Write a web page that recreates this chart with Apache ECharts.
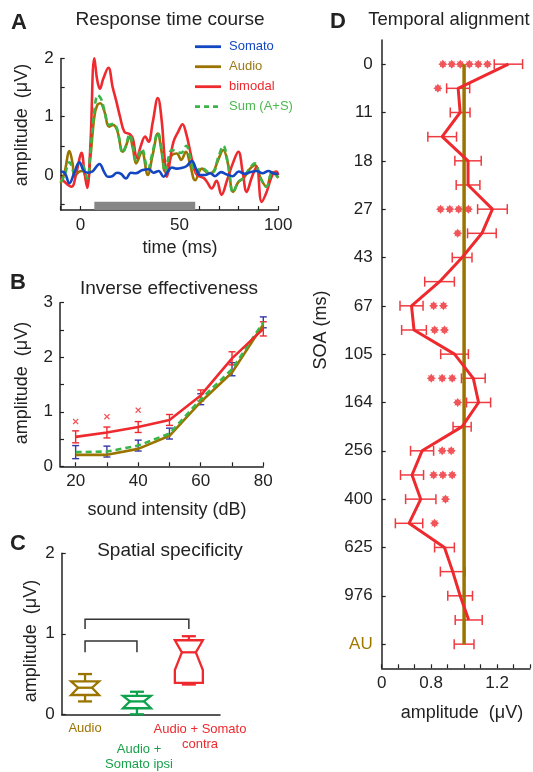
<!DOCTYPE html>
<html><head><meta charset="utf-8">
<script src="https://cdn.jsdelivr.net/npm/echarts@6/dist/echarts.min.js"></script>
<style>html,body{margin:0;padding:0;background:#fff}#c{width:533px;height:772px}</style>
</head><body><div id="c"></div>
<script>
// ---------- Panel A: response time course (time ms, amplitude uV) ----------
const somatoTrace = [[-10,0.06],[-8,0.04],[-5.6,-0.14],[-3,0.05],[-0.5,0.22],[1.5,0.08],[3.4,0.04],[6,0.06],[9.6,0.19],[12,0.05],[13.8,-0.03],[16,-0.02],[18.5,0.04],[20.5,0.02],[23,-0.06],[25.5,0.04],[28,0.03],[31,0.08],[34.5,0.1],[37,0.04],[39.5,0.07],[42,-0.03],[44,0.05],[46.2,0.13],[48.5,0.11],[51,0.12],[53.5,0.15],[56.3,0.24],[58.5,0.1],[60.5,0.0],[63,0.0],[65.6,0.03],[68,-0.02],[71,0.05],[74,0.01],[77,-0.02],[80,0.06],[83,0.02],[86,0.05],[89,0.07],[92,0.03],[95,0.07],[97.5,0.03],[100,0.02]];
const audioTrace = [[-10,-0.14],[-8,0.05],[-5.6,0.41],[-4,0.2],[-3,-0.03],[-1,0.05],[1,0.07],[3.4,-0.11],[5,0.3],[7,1.0],[8.5,1.2],[10,1.23],[12,1.1],[14.5,0.83],[16.5,0.86],[18.5,0.77],[21.4,0.4],[23,0.5],[24.8,0.66],[26.5,0.45],[28.2,0.2],[31,0.4],[34,0.0],[36.5,0.35],[39.1,0.71],[41,0.4],[42.8,0.06],[44.5,0.2],[46.2,0.34],[48.7,0.37],[50.9,0.26],[53.3,0.4],[55.5,0.17],[58,-0.09],[61.4,0.11],[64.8,0.03],[67,0.05],[69.6,0.26],[72.2,0.43],[74.5,0.2],[77.2,-0.29],[79.8,-0.12],[82.5,-0.05],[85.5,0.1],[88.2,0.17],[91,-0.05],[94,-0.2],[97,0.05],[100,-0.05]];
const bimodalTrace = [[-10,-0.05],[-7,-0.15],[-4.5,-0.2],[-2,0.05],[0.5,0.38],[2,0.05],[3.4,-0.22],[5,0.5],[7,2.0],[8.5,1.62],[9.8,1.48],[11.5,1.65],[14.1,1.84],[16.3,1.5],[18,1.28],[20,1.0],[22.2,0.74],[25,0.7],[26.5,0.62],[28.5,0.29],[30.5,0.5],[32.7,0.66],[34.4,0.57],[36.5,0.9],[39.1,1.32],[41,0.95],[42.5,0.3],[43.7,-0.03],[45.5,0.3],[47,0.57],[49.5,0.75],[51.6,0.87],[53.5,0.7],[55.5,0.4],[57.5,0.1],[59,0.0],[62.2,-0.05],[64,-0.12],[66.3,-0.23],[68.8,-0.1],[71.3,-0.34],[74,-0.1],[77,0.2],[79.8,0.4],[82,0.05],[84,-0.29],[86.5,-0.05],[89,0.14],[91.6,-0.46],[94,-0.3],[97,0.0],[99,0.06],[100,0.0]];
const sumTrace = [[-10,-0.12],[-8,0.0],[-5.6,0.22],[-3,0.03],[-1,0.2],[1,0.18],[3.4,-0.06],[5,0.4],[7,1.1],[8.8,1.37],[10.5,1.3],[12,1.12],[14.5,0.86],[16.5,0.88],[18.5,0.79],[21.4,0.38],[23,0.5],[24.8,0.7],[26.5,0.5],[28.2,0.25],[31,0.45],[34,0.1],[36.5,0.4],[39.1,0.73],[41,0.45],[42.8,0.05],[44.5,0.3],[46.2,0.43],[48.7,0.4],[50.9,0.38],[53.5,0.5],[55.5,0.3],[58,0.05],[61.4,0.12],[64.8,0.05],[67,0.05],[69.6,0.3],[72.2,0.5],[74.5,0.2],[77.2,-0.3],[79.8,-0.12],[82.5,-0.05],[85.5,0.12],[88.2,0.2],[91,-0.05],[94,-0.2],[97,0.05],[100,-0.04]];
const stimWindow = [7, 58];          // grey stimulus bar (ms)
const traceNames = ['Somato', 'Audio', 'bimodal', 'Sum (A+S)'];

// ---------- Panel B: inverse effectiveness ----------
const intensity = [20, 30, 40, 50, 60, 70, 80];
const bimodalAmp = [0.54, 0.62, 0.72, 0.85, 1.3, 1.98, 2.52];
const bimodalErr = [0.11, 0.1, 0.1, 0.1, 0.1, 0.12, 0.13];
const audioAmp = [0.21, 0.21, 0.32, 0.56, 1.18, 1.72, 2.6];
const sumAmp = [0.26, 0.27, 0.38, 0.6, 1.23, 1.78, 2.64];
const sumErr = [0.12, 0.1, 0.1, 0.1, 0.1, 0.12, 0.1];
const sigIntensity = [20, 30, 40];
const sigLevel = [0.82, 0.91, 1.03];

// ---------- Panel C: spatial specificity (notched boxes) ----------
const condLabels = ['Audio', 'Audio +\nSomato ipsi', 'Audio + Somato\ncontra'];
const whiskerLow = [0.16, 0.0, 0.37];
const q1 = [0.24, 0.075, 0.39];
const notchLow = [0.24, 0.075, 0.55];
const median = [0.33, 0.16, 0.77];
const notchHigh = [0.41, 0.23, 0.92];
const q3 = [0.41, 0.23, 0.92];
const whiskerHigh = [0.5, 0.28, 0.97];
const brackets = [[0, 2, 1.18, 1.06], [0, 1, 0.91, 0.77]]; // from, to, top, leg end

// ---------- Panel D: temporal alignment ----------
const soaLabels = ['0', '11', '18', '27', '43', '67', '105', '164', '256', '400', '625', '976', 'AU'];
const soaMean = [1.269, 0.964, 0.976, 0.867, 1.024, 1.024, 1.172, 1.108, 0.988, 0.851, 0.681, 0.696, 0.942, 1.056, 1.088, 0.988, 0.745, 0.684, 0.737, 0.666, 0.881, 0.931, 0.976, 1.028];
const soaSem = [0.086, 0.07, 0.06, 0.087, 0.08, 0.072, 0.09, 0.087, 0.06, 0.09, 0.07, 0.075, 0.084, 0.072, 0.073, 0.055, 0.07, 0.07, 0.092, 0.083, 0.06, 0.075, 0.075, 0.082];
const auMean = 1.0;
const auSem = 0.06;
const soaStars = [[0.871,0],[0.925,0],[0.977,0],[1.032,0],[1.086,0],[1.142,0],[0.841,1],[0.857,6],[0.913,6],[0.967,6],[1.026,6],[0.961,7],[0.815,10],[0.875,10],[0.821,11],[0.881,11],[0.801,13],[0.867,13],[0.928,13],[0.961,14],[0.867,16],[0.922,16],[0.815,17],[0.871,17],[0.928,17],[0.887,18],[0.821,19]];

// ---------- styling ----------
const FONT = "'Liberation Sans', Arial, Helvetica, sans-serif";
const RED = '#ee2a2f', BROWN = '#9b7400', BLUE = '#1346c2', GREEN = '#3bb54a', DKGREEN = '#0ea24c', ERRBLUE = '#3537a8', INK = '#222';
const STAR = 'path://M0,-10L3.2,-5.6L7.1,-7.1L5.6,-3.2L10,0L5.6,3.2L7.1,7.1L3.2,5.6L0,10L-3.2,5.6L-7.1,7.1L-5.6,3.2L-10,0L-5.6,-3.2L-7.1,-7.1L-3.2,-5.6Z';
const CROSS = 'path://M-10,-7L-7,-10L0,-3L7,-10L10,-7L3,0L10,7L7,10L0,3L-7,10L-10,7L-3,0Z';

function axisBase(extra) {
  const a = {
    axisLine: {show: true, onZero: false, lineStyle: {color: INK, width: 1.5}},
    axisTick: {show: true, inside: true, length: 4, lineStyle: {color: INK, width: 1.2}},
    splitLine: {show: false},
    axisLabel: {color: INK, fontSize: 17, fontFamily: FONT, margin: 7}
  };
  for (const k in extra) {
    if (typeof extra[k] === 'object' && !Array.isArray(extra[k]) && a[k]) a[k] = Object.assign({}, a[k], extra[k]);
    else a[k] = extra[k];
  }
  return a;
}

const chart = echarts.init(document.getElementById('c'), null, {renderer: 'canvas'});

const tickSoa = soaLabels.map((_, i) => i * 2);

function vErr(color) {
  return function (params, api) {
    const x = api.value(0), lo = api.value(1), hi = api.value(2);
    const p1 = api.coord([x, lo]), p2 = api.coord([x, hi]);
    const w = 3.5, st = {stroke: color, lineWidth: 1.4, fill: null};
    return {type: 'group', children: [
      {type: 'line', shape: {x1: p1[0], y1: p1[1], x2: p2[0], y2: p2[1]}, style: st},
      {type: 'line', shape: {x1: p1[0] - w, y1: p1[1], x2: p1[0] + w, y2: p1[1]}, style: st},
      {type: 'line', shape: {x1: p2[0] - w, y1: p2[1], x2: p2[0] + w, y2: p2[1]}, style: st}
    ]};
  };
}
function hErr(params, api) {
  const lo = api.value(0), hi = api.value(1), y = api.value(2);
  const p1 = api.coord([lo, y]), p2 = api.coord([hi, y]);
  const h = 5, st = {stroke: '#ef3a40', lineWidth: 1.5, fill: null};
  return {type: 'group', children: [
    {type: 'line', shape: {x1: p1[0], y1: p1[1], x2: p2[0], y2: p2[1]}, style: st},
    {type: 'line', shape: {x1: p1[0], y1: p1[1] - h, x2: p1[0], y2: p1[1] + h}, style: st},
    {type: 'line', shape: {x1: p2[0], y1: p2[1] - h, x2: p2[0], y2: p2[1] + h}, style: st}
  ]};
}
const boxColors = [BROWN, DKGREEN, RED];
function boxItem(params, api) {
  const i = params.dataIndex;
  const pos = api.value(0);
  const Y = v => api.coord([pos, v])[1];
  const cx = api.coord([pos, 0])[0];
  const hw = 14, nw = 7, cw = 7;
  const c = boxColors[i];
  const st = {stroke: c, lineWidth: 2.3, fill: null, lineJoin: 'miter'};
  const wl = api.value(1), b1 = api.value(2), nl = api.value(3), md = api.value(4), nh = api.value(5), b3 = api.value(6), wh = api.value(7);
  const pts = [[cx - hw, Y(b3)], [cx - hw, Y(nh)], [cx - nw, Y(md)], [cx - hw, Y(nl)], [cx - hw, Y(b1)],
               [cx + hw, Y(b1)], [cx + hw, Y(nl)], [cx + nw, Y(md)], [cx + hw, Y(nh)], [cx + hw, Y(b3)]];
  return {type: 'group', children: [
    {type: 'polygon', shape: {points: pts}, style: st},
    {type: 'line', shape: {x1: cx - nw, y1: Y(md), x2: cx + nw, y2: Y(md)}, style: st},
    {type: 'line', shape: {x1: cx, y1: Y(b3), x2: cx, y2: Y(wh)}, style: st},
    {type: 'line', shape: {x1: cx - cw, y1: Y(wh), x2: cx + cw, y2: Y(wh)}, style: st},
    {type: 'line', shape: {x1: cx, y1: Y(b1), x2: cx, y2: Y(wl)}, style: st},
    {type: 'line', shape: {x1: cx - cw, y1: Y(wl), x2: cx + cw, y2: Y(wl)}, style: st}
  ]};
}
function bracketItem(params, api) {
  const a = api.value(0), b = api.value(1), top = api.value(2), leg = api.value(3);
  const p1 = api.coord([a, leg]), p2 = api.coord([a, top]), p3 = api.coord([b, top]), p4 = api.coord([b, leg]);
  return {type: 'polyline', shape: {points: [p1, p2, p3, p4]}, style: {stroke: '#333', lineWidth: 1.5, fill: null}};
}

const labelText = (x, y, text, opt) => Object.assign({type: 'text', x: x, y: y, style: Object.assign({text: text, fill: INK, font: '18px ' + FONT, textAlign: 'center', textVerticalAlign: 'middle'}, opt || {})});
const vText = (x, y, text) => ({type: 'text', x: x, y: y, rotation: Math.PI / 2, style: {text: text, fill: INK, font: '18px ' + FONT, textAlign: 'center', textVerticalAlign: 'middle'}});

const condColors = [BROWN, '#18a24a', RED];
const condPos = [[85, 728], [139, 756.5], [200, 736.5]];

const graphics = [
  labelText(19, 23, 'A', {font: 'bold 22px ' + FONT}),
  labelText(170, 20, 'Response time course', {font: '19px ' + FONT}),
  labelText(18, 283, 'B', {font: 'bold 22px ' + FONT}),
  labelText(169, 289, 'Inverse effectiveness', {font: '19px ' + FONT}),
  labelText(18, 544, 'C', {font: 'bold 22px ' + FONT}),
  labelText(170, 551, 'Spatial specificity', {font: '19px ' + FONT}),
  labelText(338, 22, 'D', {font: 'bold 22px ' + FONT}),
  labelText(449, 20, 'Temporal alignment', {font: '18.5px ' + FONT}),
  vText(22, 125, 'amplitude  (μV)'),
  vText(22, 383, 'amplitude  (μV)'),
  vText(31, 641, 'amplitude  (μV)'),
  vText(321, 330, 'SOA (ms)'),
  labelText(180, 248, 'time (ms)'),
  labelText(167, 510, 'sound intensity (dB)'),
  labelText(462, 713, 'amplitude  (μV)')
];
condLabels.forEach((t, i) => {
  graphics.push({type: 'text', x: condPos[i][0], y: condPos[i][1], style: {text: t, fill: condColors[i], font: '13px ' + FONT, textAlign: 'center', textVerticalAlign: 'middle', lineHeight: 15}});
});
// legend for panel A (lines + names)
const legendColors = [BLUE, BROWN, RED, GREEN];
const legendTextColors = [BLUE, '#9b7a16', RED, '#4cb84f'];
traceNames.forEach((n, i) => {
  const y = 46.7 + i * 20;
  graphics.push({type: 'line', shape: {x1: 195, y1: y, x2: 221, y2: y},
    style: {stroke: legendColors[i], lineWidth: 2.8, lineDash: i === 3 ? [5, 4] : null}});
  graphics.push({type: 'text', x: 229, y: y, style: {text: n, fill: legendTextColors[i], font: '13px ' + FONT, textAlign: 'left', textVerticalAlign: 'middle'}});
});

const option = {
  animation: false,
  backgroundColor: '#fff',
  textStyle: {fontFamily: FONT},
  graphic: graphics,
  grid: [
    {left: 60.7, top: 58.4, width: 217.6, height: 151.6},
    {left: 60, top: 302.7, width: 203.3, height: 163.6},
    {left: 61.7, top: 553.3, width: 158.3, height: 161},
    {left: 381.7, top: 40, width: 149, height: 628.3}
  ],
  xAxis: [
    axisBase({type: 'value', gridIndex: 0, min: -10, max: 100, interval: 10,
      axisLabel: {formatter: v => (v === 0 || v === 50 || v === 100) ? String(v) : ''}}),
    axisBase({type: 'value', gridIndex: 1, min: 15, max: 80,
      axisTick: {customValues: intensity},
      axisLabel: {customValues: [20, 40, 60, 80]}}),
    axisBase({type: 'value', gridIndex: 2, min: -0.45, max: 2.6,
      axisTick: {show: false}, axisLabel: {show: false}}),
    axisBase({type: 'value', gridIndex: 3, min: 0.5, max: 1.4, interval: 0.1,
      axisLabel: {formatter: v => Math.abs(v - 0.5) < 1e-6 ? '0' : Math.abs(v - 0.8) < 1e-6 ? '0.8' : Math.abs(v - 1.2) < 1e-6 ? '1.2' : ''}})
  ],
  yAxis: [
    axisBase({type: 'value', gridIndex: 0, min: -0.6, max: 2,
      axisTick: {customValues: [-0.5, 0, 0.5, 1, 1.5, 2]},
      axisLabel: {customValues: [0, 1, 2]}}),
    axisBase({type: 'value', gridIndex: 1, min: 0, max: 3, interval: 0.5,
      axisLabel: {formatter: v => Number.isInteger(v) ? String(v) : ''}}),
    axisBase({type: 'value', gridIndex: 2, min: 0, max: 2, interval: 1}),
    axisBase({type: 'value', gridIndex: 3, min: -1, max: 25, inverse: true,
      axisTick: {customValues: tickSoa},
      axisLabel: {customValues: tickSoa, margin: 9,
        formatter: v => { const s = soaLabels[Math.round(v / 2)]; return s === 'AU' ? '{au|AU}' : s; },
        rich: {au: {color: '#a07800', fontSize: 17, fontFamily: FONT}}}})
  ],
  series: [
    // Panel A
    {name: traceNames[1], type: 'line', xAxisIndex: 0, yAxisIndex: 0, data: audioTrace, smooth: 0.4, symbol: 'none', lineStyle: {color: BROWN, width: 2.6}, itemStyle: {color: BROWN}},
    {name: traceNames[2], type: 'line', xAxisIndex: 0, yAxisIndex: 0, data: bimodalTrace, smooth: 0.4, symbol: 'none', lineStyle: {color: RED, width: 2.6}, itemStyle: {color: RED}},
    {name: traceNames[3], type: 'line', xAxisIndex: 0, yAxisIndex: 0, data: sumTrace, smooth: 0.4, symbol: 'none', lineStyle: {color: GREEN, width: 2.6, type: [6, 4]}, itemStyle: {color: GREEN}},
    {name: traceNames[0], type: 'line', xAxisIndex: 0, yAxisIndex: 0, data: somatoTrace, smooth: 0.4, symbol: 'none', lineStyle: {color: BLUE, width: 2.6}, itemStyle: {color: BLUE},
      markArea: {silent: true, itemStyle: {color: '#868686', opacity: 1},
        data: [[{xAxis: stimWindow[0], yAxis: -0.6}, {xAxis: stimWindow[1], yAxis: -0.46}]]}},
    // Panel B
    {name: 'B audio', type: 'line', xAxisIndex: 1, yAxisIndex: 1, data: intensity.map((x, i) => [x, audioAmp[i]]), symbol: 'none', lineStyle: {color: BROWN, width: 2.6}},
    {name: 'B sum', type: 'line', xAxisIndex: 1, yAxisIndex: 1, data: intensity.map((x, i) => [x, sumAmp[i]]), symbol: 'none', lineStyle: {color: GREEN, width: 2.6, type: [6, 4]}},
    {name: 'B bimodal', type: 'line', xAxisIndex: 1, yAxisIndex: 1, data: intensity.map((x, i) => [x, bimodalAmp[i]]), symbol: 'none', lineStyle: {color: RED, width: 2.6}},
    {name: 'B sumErr', type: 'custom', xAxisIndex: 1, yAxisIndex: 1, renderItem: vErr(ERRBLUE), encode: {x: 0, y: [1, 2]},
      data: intensity.map((x, i) => [x, sumAmp[i] - sumErr[i], sumAmp[i] + sumErr[i]])},
    {name: 'B bimErr', type: 'custom', xAxisIndex: 1, yAxisIndex: 1, renderItem: vErr(RED), encode: {x: 0, y: [1, 2]},
      data: intensity.map((x, i) => [x, bimodalAmp[i] - bimodalErr[i], bimodalAmp[i] + bimodalErr[i]])},
    {name: 'B sig', type: 'scatter', xAxisIndex: 1, yAxisIndex: 1, symbol: CROSS, symbolSize: 6, itemStyle: {color: RED},
      data: sigIntensity.map((x, i) => [x, sigLevel[i]])},
    // Panel C
    {name: 'C brackets', type: 'custom', xAxisIndex: 2, yAxisIndex: 2, renderItem: bracketItem, encode: {x: [0, 1], y: [2, 3]}, data: brackets},
    {name: 'C boxes', type: 'custom', xAxisIndex: 2, yAxisIndex: 2, renderItem: boxItem, encode: {x: 0, y: [1, 7]},
      data: condLabels.map((_, i) => [i, whiskerLow[i], q1[i], notchLow[i], median[i], notchHigh[i], q3[i], whiskerHigh[i]])},
    // Panel D
    {name: 'D AU', type: 'line', xAxisIndex: 3, yAxisIndex: 3, symbol: 'none', lineStyle: {color: BROWN, width: 3.5},
      data: [[auMean, 0], [auMean, (soaLabels.length - 1) * 2]]},
    {name: 'D err', type: 'custom', xAxisIndex: 3, yAxisIndex: 3, renderItem: hErr, encode: {x: [0, 1], y: 2},
      data: soaMean.map((m, i) => [m - soaSem[i], m + soaSem[i], i]).concat([[auMean - auSem, auMean + auSem, (soaLabels.length - 1) * 2]])},
    {name: 'D mean', type: 'line', xAxisIndex: 3, yAxisIndex: 3, symbol: 'none', lineStyle: {color: RED, width: 3},
      data: soaMean.map((m, i) => [m, i])},
    {name: 'D stars', type: 'scatter', xAxisIndex: 3, yAxisIndex: 3, symbol: STAR, symbolSize: 9, itemStyle: {color: RED}, data: soaStars}
  ]
};
chart.setOption(option);
</script></body></html>
